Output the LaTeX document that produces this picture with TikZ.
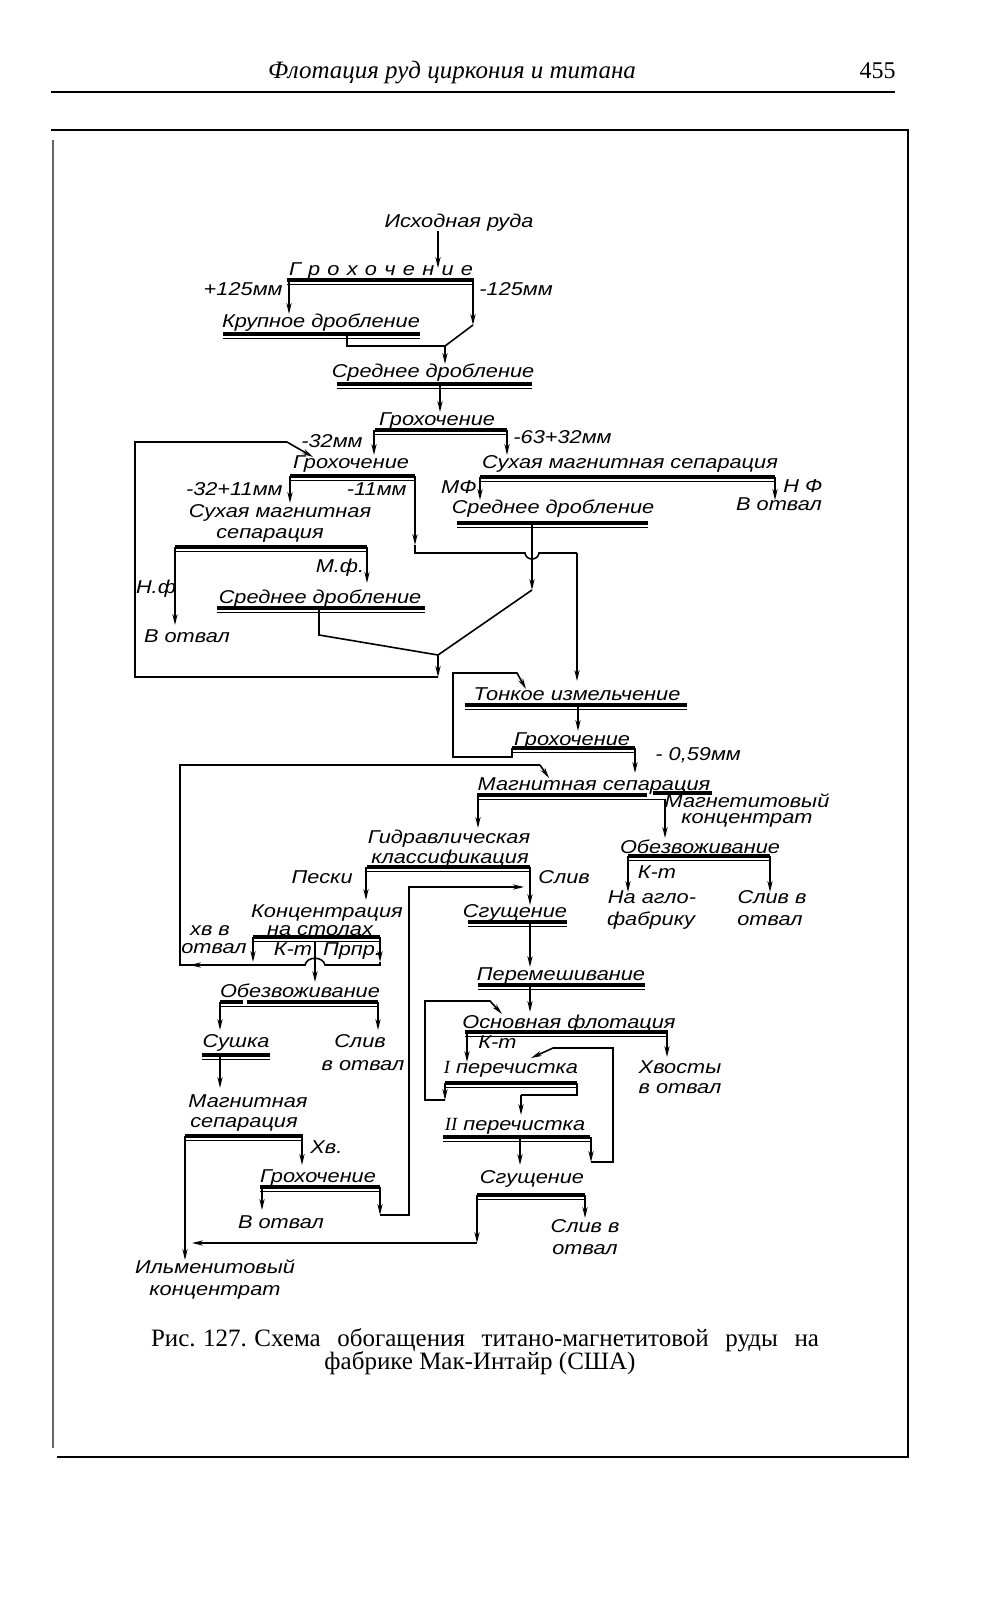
\documentclass[tikz,border=0pt]{standalone}
\usepackage{fontspec}
\setmainfont{Liberation Serif}
\newfontfamily\df[FakeStretch=1.17]{Liberation Sans}
\usetikzlibrary{arrows.meta}
\tikzset{
 lbl/.style={font=\df\itshape\fontsize{9.3}{10}\selectfont, inner sep=0pt, anchor=base},
 thickbar/.style={line width=1.7pt},
 thinbar/.style={line width=0.6pt},
 flow/.style={line width=0.8pt},
 arr/.style={flow,-{Stealth[length=5.5pt,width=2.6pt]}},
 frameline/.style={line width=0.6pt},
}
\newcommand\ubar[3]{\draw[thickbar] (#1,#3) -- (#2,#3); \draw[thinbar] (#1,#3+4.5) -- (#2,#3+4.5);}
\begin{document}
\begin{tikzpicture}[x=0.5pt,y=-0.5pt]
\useasboundingbox (0,0) rectangle (994,1600);
\fill[white] (0,0) rectangle (994,1600);
% page header and frame
\node[font=\itshape\fontsize{12.5}{14}\selectfont, anchor=base, inner sep=0] (hdr) at (452,79) {Флотация руд циркония и титана};
\node[font=\fontsize{12}{14}\selectfont, anchor=base east, inner sep=0] (pg) at (896,79) {455};
\draw[frameline] (51,92) -- (895,92);
\draw[frameline] (51,130) -- (908,130) -- (908,1457) -- (57,1457);
\draw[frameline, black!60] (53,140) -- (53,1448);
% caption
\node[font=\fontsize{12.5}{15}\selectfont, anchor=base, inner sep=0] (cap1) at (485,1346) {\makebox[334pt][s]{Рис.\hspace{0.3em}127.\hspace{0.3em}Схема обогащения титано-магнетитовой руды на}};
\node[font=\fontsize{12.5}{15}\selectfont, anchor=base, inner sep=0] (cap2) at (480,1369) {фабрике Мак-Интайр (США)};

% ---- crushing section
\node[lbl] (ore) at (459,227) {Исходная руда};
\coordinate (ore-s) at (438,231);
\coordinate (s1-in) at (438,268);
\draw[arr] (ore-s) -- (s1-in);

\node[lbl] (s1) at (381,275) {\makebox[92pt][s]{Г р о х о ч е н и е}};
\ubar{287}{474}{280}
\coordinate (s1-w) at (289,280);
\coordinate (s1-e) at (473,280);
\node[lbl, anchor=base east] (l125p) at (283,295) {+125мм};
\node[lbl, anchor=base west] (l125m) at (479,295) {-125мм};
\node[lbl] (crush1) at (321,327) {Крупное дробление};
\coordinate (crush1-in) at (289,314);
\draw[arr] (s1-w) -- (crush1-in);
\ubar{223}{420}{334}
\coordinate (k1) at (473,325);
\coordinate (j0) at (445,346);
\coordinate (med1-in) at (445,364);
\draw[arr] (s1-e) -- (k1);
\draw[arr] (k1) -- (j0) -- (med1-in);
\coordinate (crush1-out) at (347,334);
\draw[flow] (crush1-out) |- (j0);

\node[lbl] (med1) at (433,377) {Среднее дробление};
\ubar{337}{532}{384}
\coordinate (med1-out) at (440,384);
\coordinate (s2-in) at (440,412);
\draw[arr] (med1-out) -- (s2-in);

\node[lbl] (s2) at (437,425) {Грохочение};
\ubar{375}{507}{430}
\node[lbl, anchor=base east] (l32) at (363,447) {-32мм};
\node[lbl, anchor=base west] (l6332) at (513,443) {-63+32мм};
\draw[arr] (374,430) -- (374,455);
\draw[arr] (507,430) -- (507,455);

\node[lbl] (s3) at (351,468) {Грохочение};
\ubar{290}{415}{476}
\node[lbl, anchor=base east] (l3211) at (283,495) {-32+11мм};
\node[lbl, anchor=base east] (l11) at (407,495) {-11мм};
\draw[arr] (290,476) -- (290,503);
\coordinate (s3-e) at (415,476);
\coordinate (k2) at (415,545);
\draw[arr] (s3-e) -- (k2);
\draw[flow] (k2) -- (415,553) -- (525,553) .. controls (526,561) and (538,561) .. (539,553) -- (577,553);
\coordinate (fine-in) at (577,681);
\draw[arr] (577,553) -- (fine-in);

\node[lbl] (dms1a) at (280,517) {Сухая магнитная};
\node[lbl] (dms1b) at (270,538) {сепарация};
\ubar{175}{367}{547}
\draw[arr] (175,547) -- (175,625);
\node[lbl] (nf1) at (156,593) {Н.ф};
\node[lbl] (waste1) at (187,642) {В отвал};
\draw[arr] (367,547) -- (367,583);
\node[lbl] (mf1) at (340,572) {М.ф.};

\node[lbl] (med2) at (320,603) {Среднее дробление};
\ubar{217}{425}{608}
\coordinate (j1) at (438,655);
\coordinate (j1b) at (438,677);
\draw[flow] (319,608) -- (319,635) -- (j1);
\draw[arr] (j1) -- (j1b);
\coordinate (s3-in) at (313,457);
\draw[arr] (j1b) -- (135,677) -- (135,442) -- (287,442) -- (s3-in);

\node[lbl] (dms2) at (630,468) {Сухая магнитная сепарация};
\ubar{480}{775}{477}
\draw[arr] (480,477) -- (480,500);
\draw[arr] (775,477) -- (775,500);
\node[lbl, anchor=base east] (mf2) at (477,493) {МФ};
\node[lbl, anchor=base west] (nf2) at (783,492) {Н Ф};
\node[lbl] (waste2) at (779,510) {В отвал};

\node[lbl] (med3) at (553,513) {Среднее дробление};
\ubar{457}{648}{523}
\coordinate (med3-out) at (532,523);
\coordinate (k3) at (532,590);
\draw[arr] (med3-out) -- (k3);
\draw[flow] (k3) -- (j1);

% ---- grinding
\node[lbl] (fine) at (577,700) {Тонкое измельчение};
\ubar{465}{687}{705}
\draw[arr] (578,705) -- (578,731);
\node[lbl] (s4) at (572,745) {Грохочение};
\ubar{512}{635}{748}
\coordinate (fine-in2) at (526,689);
\draw[arr] (512,748) -- (512,757) -- (453,757) -- (453,673) -- (517,673) -- (fine-in2);
\draw[arr] (635,748) -- (635,773);
\node[lbl, anchor=base west] (l059) at (655,760) {- 0,59мм};

\node[lbl] (ms1) at (594,790) {Магнитная сепарация};
\draw[thickbar] (477,795) -- (647,795);
\draw[thickbar] (653,793) -- (712,793);
\draw[thinbar] (477,799.5) -- (665,799.5);
\draw[arr] (478,795) -- (478,828);
\draw[arr] (665,799) -- (665,838);
\node[lbl] (mgc1) at (747,807) {Магнетитовый};
\node[lbl] (mgc2) at (747,823) {концентрат};

\node[lbl] (dw2) at (700,853) {Обезвоживание};
\ubar{628}{770}{856}
\draw[arr] (628,856) -- (628,892);
\draw[arr] (770,856) -- (770,892);
\node[lbl] (kt2) at (657,878) {К-т};
\node[lbl] (agl1) at (652,903) {На агло-};
\node[lbl] (agl2) at (651,925) {фабрику};
\node[lbl] (dw2s1) at (772,903) {Слив в};
\node[lbl] (dw2s2) at (770,925) {отвал};

% ---- gravity branch
\node[lbl] (hc1) at (449,843) {Гидравлическая};
\node[lbl] (hc2) at (450,863) {классификация};
\ubar{367}{530}{867}
\draw[arr] (366,867) -- (366,900);
\node[lbl, anchor=base east] (sand) at (353,883) {Пески};
\draw[arr] (530,867) -- (530,905);
\node[lbl, anchor=base west] (ovf) at (538,883) {Слив};

\node[lbl] (ct1) at (327,917) {Концентрация};
\node[lbl] (ct2) at (320,935) {на столах};
\ubar{253}{380}{937}
\draw[arr] (253,937) -- (253,962);
\node[lbl] (xv1) at (210,935) {хв в};
\node[lbl] (xv2) at (214,953) {отвал};
\draw[arr] (315,941) -- (315,982);
\node[lbl] (kt1) at (293,955) {К-т};
\node[lbl] (mid1) at (352,955) {Прпр.};
\draw[arr] (380,937) -- (380,962);
\draw[flow] (380,962) -- (380,965) -- (325,965) .. controls (323,956) and (307,956) .. (305,965) -- (180,965) -- (180,765) -- (540,765);
\draw[arr] (235,965) -- (190,965);
\coordinate (ms1-in) at (549,778);
\draw[arr] (540,765) -- (ms1-in);

\node[lbl] (dw1) at (300,997) {Обезвоживание};
\draw[thickbar] (220,1002) -- (243,1002);
\draw[thickbar] (247,1002) -- (378,1002);
\draw[thinbar] (220,1006.5) -- (378,1006.5);
\draw[arr] (220,1002) -- (220,1030);
\draw[arr] (378,1002) -- (378,1030);
\node[lbl] (dry) at (236,1047) {Сушка};
\ubar{202}{270}{1055}
\draw[arr] (220,1055) -- (220,1088);
\node[lbl] (dw1s1) at (360,1047) {Слив};
\node[lbl] (dw1s2) at (363,1070) {в отвал};

\node[lbl] (ms2a) at (248,1107) {Магнитная};
\node[lbl] (ms2b) at (244,1127) {сепарация};
\ubar{185}{303}{1136}
\draw[arr] (302,1136) -- (302,1165);
\node[lbl, anchor=base west] (xv3) at (310,1153) {Хв.};
\coordinate (ilm-in) at (185,1260);
\draw[arr] (185,1136) -- (ilm-in);

\node[lbl] (s5) at (318,1182) {Грохочение};
\ubar{260}{380}{1187}
\draw[arr] (262,1187) -- (262,1210);
\node[lbl] (waste5) at (281,1228) {В отвал};
\coordinate (s5-k) at (380,1215);
\draw[arr] (380,1187) -- (s5-k);
\coordinate (th1-in) at (524,887);
\draw[arr] (s5-k) -- (409,1215) -- (409,887) -- (th1-in);

\node[lbl] (ilm1) at (215,1273) {Ильменитовый};
\node[lbl] (ilm2) at (215,1295) {концентрат};

% ---- flotation branch
\node[lbl] (th1) at (515,917) {Сгущение};
\ubar{468}{567}{922}
\draw[arr] (530,922) -- (530,967);
\node[lbl] (mix) at (561,980) {Перемешивание};
\ubar{478}{645}{985}
\draw[arr] (530,985) -- (530,1012);
\node[lbl] (rf) at (569,1028) {Основная флотация};
\ubar{465}{668}{1032}
\draw[arr] (467,1032) -- (467,1062);
\node[lbl, anchor=base west] (kt3) at (478,1048) {К-т};
\draw[arr] (667,1032) -- (667,1057);
\node[lbl] (tail1) at (680,1073) {Хвосты};
\node[lbl] (tail2) at (680,1093) {в отвал};
\coordinate (cl1-k) at (445,1100);
\coordinate (rf-in) at (502,1014);
\draw[arr] (445,1083) -- (cl1-k);
\draw[arr] (cl1-k) -- (425,1100) -- (425,1001) -- (490,1001) -- (rf-in);

\node[lbl] (cl1) at (511,1073) {\textrm{I} перечистка};
\ubar{445}{577}{1083}
\draw[flow] (577,1083) -- (577,1095) -- (521,1095);
\draw[arr] (521,1095) -- (521,1115);
\node[lbl] (cl2) at (515,1130) {\textrm{II} перечистка};
\ubar{443}{590}{1137}
\draw[arr] (520,1137) -- (520,1165);
\coordinate (cl2-k) at (591,1162);
\coordinate (cl1-in) at (531,1058);
\draw[arr] (591,1137) -- (cl2-k);
\draw[arr] (cl2-k) -- (613,1162) -- (613,1048) -- (553,1048) -- (cl1-in);

\node[lbl] (th2) at (532,1183) {Сгущение};
\ubar{477}{585}{1195}
\coordinate (th2-k) at (477,1243);
\draw[arr] (477,1195) -- (th2-k);
\draw[arr] (th2-k) -- (192,1243);
\draw[arr] (585,1195) -- (585,1218);
\node[lbl] (th2s1) at (585,1232) {Слив в};
\node[lbl] (th2s2) at (585,1254) {отвал};
\end{tikzpicture}
\end{document}
